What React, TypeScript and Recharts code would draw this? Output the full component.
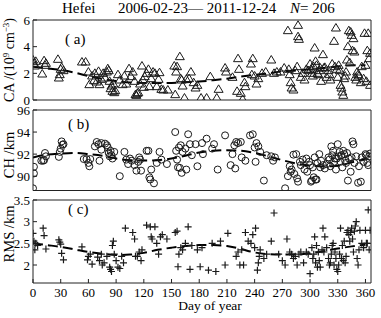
import { ComposedChart, Line, XAxis, YAxis } from "recharts";

const W = 381;
const H = 318;
const FONT = "'Liberation Serif', 'Times New Roman', serif";

const dayTicks = [0, 30, 60, 90, 120, 150, 180, 210, 240, 270, 300, 330, 360];
const caTicks = [0, 2, 4, 6];
const chTicks = [90, 92, 94, 96];
const rmsTicks = [2, 2.5, 3, 3.5];

// running-mean trend, every 15 days
const trendDays = [0, 15, 30, 45, 60, 75, 90, 105, 120, 135, 150, 165, 180, 195, 210, 225, 240, 255, 270, 285, 300, 315, 330, 345, 360];
const caTrend = [2.5, 2.38, 2.25, 2.05, 1.8, 1.58, 1.42, 1.32, 1.28, 1.27, 1.28, 1.33, 1.38, 1.48, 1.6, 1.75, 1.88, 2.0, 2.15, 2.22, 2.3, 2.4, 2.52, 2.6, 2.6];
const chTrend = [91.7, 91.95, 92.05, 92.1, 92.0, 91.85, 91.6, 91.45, 91.42, 91.45, 91.6, 91.85, 92.15, 92.3, 92.35, 92.3, 92.1, 91.8, 91.45, 91.15, 90.95, 90.88, 90.95, 91.25, 91.55];
const rmsTrend = [2.5, 2.46, 2.42, 2.36, 2.3, 2.26, 2.23, 2.24, 2.28, 2.35, 2.4, 2.44, 2.46, 2.46, 2.44, 2.37, 2.29, 2.25, 2.24, 2.24, 2.27, 2.32, 2.38, 2.43, 2.47];

// [day of year, value]
const caPoints: [number, number][] = [
  [0, 3.0], [1, 2.75], [2, 2.55], [3, 2.9], [10, 1.95], [12, 2.95], [13, 2.6], [14, 2.75], [27, 3.05], [28, 1.65], [29, 1.9], [30, 2.3], [31, 2.45], [33, 2.2],
  [53, 2.85], [57, 2.85], [60, 2.1], [61, 1.15], [64, 1.8], [66, 1.45], [67, 2.0], [69, 1.35], [71, 2.15], [72, 1.15], [74, 1.55], [76, 2.0], [78, 1.65],
  [80, 2.1], [81, 2.35], [82, 2.2], [83, 1.4], [84, 0.85], [85, 1.05], [86, 0.65], [87, 1.2], [88, 0.55], [89, 0.7], [92, 1.9], [94, 1.5], [97, 1.15],
  [99, 1.8], [101, 1.2], [104, 2.35], [106, 1.75], [108, 2.1], [110, 1.4], [111, 0.4], [112, 0.35], [113, 0.5], [114, 0.55], [116, 1.2], [118, 2.55],
  [119, 1.5], [120, 0.95], [121, 1.75], [123, 2.0], [125, 2.3], [126, 1.0], [128, 1.6], [130, 2.1], [132, 2.0], [134, 1.0], [136, 1.55], [137, 2.05],
  [139, 0.8], [141, 0.75], [146, 0.75], [153, 2.55], [154, 0.4], [155, 2.1], [156, 2.5], [159, 3.25], [160, 1.6], [161, 1.5], [162, 1.05], [164, 0.15],
  [166, 1.55], [169, 1.6], [171, 2.1], [174, 1.3], [176, 0.9], [178, 1.1], [182, 0.15], [188, 0.15], [192, 1.75], [199, 0.15], [201, 0.8], [208, 2.4],
  [209, 2.1], [216, 1.7], [222, 3.1], [223, 2.3], [221, 0.65], [225, 0.5], [227, 0.05], [229, 1.3], [230, 1.0], [236, 2.7], [238, 3.1], [237, 1.9],
  [240, 1.8], [242, 1.2], [244, 1.6], [248, 2.0], [252, 2.1], [258, 3.0], [261, 2.0], [264, 2.1], [268, 2.1],
  [272, 2.4], [276, 5.2], [277, 2.3], [278, 1.9], [279, 1.3], [280, 0.9], [282, 0.75], [284, 2.2], [286, 2.5], [287, 5.6], [287, 4.75], [288, 4.55],
  [290, 1.7], [292, 2.0], [294, 1.5], [296, 2.3], [298, 2.2], [300, 2.7], [301, 2.3], [302, 2.0], [303, 1.8], [304, 2.5], [305, 3.9], [306, 2.9],
  [307, 2.6], [308, 2.0], [309, 1.9], [310, 2.2], [311, 2.4], [312, 1.4], [314, 3.4], [315, 2.4], [316, 2.45], [318, 1.7], [320, 2.2], [321, 1.9],
  [322, 1.5], [324, 2.7], [326, 4.4], [327, 2.5], [328, 5.4], [329, 2.3], [330, 1.7], [331, 2.6], [332, 2.2], [333, 1.1], [334, 0.9], [335, 0.6],
  [336, 0.35], [337, 1.6], [338, 1.8], [339, 2.1], [340, 3.0], [341, 4.0], [342, 5.2], [343, 2.8], [344, 5.1], [345, 4.85], [346, 3.7], [347, 4.6],
  [348, 3.6], [349, 1.7], [350, 1.5], [351, 2.1], [352, 1.9], [353, 1.8], [355, 1.3], [356, 2.5], [358, 1.6], [359, 5.0], [360, 2.6], [361, 1.4],
  [362, 3.7], [363, 5.0], [364, 3.1], [365, 1.1], [365, 3.5],
];

const chPoints: [number, number][] = [
  [0, 88.9], [1, 90.85], [1, 90.25], [9, 91.4], [11, 91.4], [12, 91.45], [13, 92.1], [14, 91.8], [28, 91.75], [29, 92.2], [30, 92.5], [31, 93.15],
  [32, 92.85], [33, 92.9],
  [55, 91.55], [58, 91.55], [60, 91.2], [61, 90.9], [62, 91.55], [67, 92.7], [69, 93.1], [71, 92.9], [72, 91.4], [74, 93.0], [74, 92.4], [78, 92.95],
  [80, 92.8], [81, 92.6], [82, 92.1], [83, 91.8], [84, 92.3], [85, 91.9], [86, 91.6], [88, 92.2], [94, 90.0], [99, 92.2], [101, 91.5], [103, 91.1],
  [105, 91.6], [107, 91.4], [110, 91.0], [112, 90.5], [114, 91.3], [115, 91.7], [116, 91.5], [117, 90.5], [123, 92.3], [125, 92.3], [126, 89.9],
  [127, 89.7], [128, 90.6], [131, 89.35], [134, 91.2], [137, 92.2], [139, 91.5], [145, 91.1], [154, 94.0], [155, 92.3], [156, 91.5], [157, 90.8],
  [158, 92.6], [159, 90.75], [160, 92.8], [161, 90.3], [162, 92.2], [165, 92.5], [166, 90.6], [168, 93.8], [170, 92.9], [172, 91.9], [176, 92.9],
  [178, 90.9], [183, 93.0], [184, 92.0], [188, 93.4], [194, 92.5], [196, 92.9], [200, 90.6], [208, 93.7], [214, 91.0], [216, 92.0], [218, 92.8],
  [219, 90.7], [220, 93.1], [222, 93.0], [225, 93.1], [226, 91.7], [230, 91.4], [235, 93.7], [238, 93.8], [240, 92.6], [241, 91.3], [242, 93.0],
  [244, 92.7], [246, 92.2], [250, 89.6], [253, 91.9], [258, 91.8], [260, 91.4], [262, 91.7],
  [273, 88.9], [276, 90.0], [278, 90.9], [279, 90.4], [280, 90.6], [282, 91.95], [283, 90.2], [285, 92.0], [286, 89.8], [287, 89.5], [289, 91.3],
  [290, 91.0], [292, 91.5], [294, 90.6], [296, 91.6], [297, 90.4], [299, 91.3], [300, 91.0], [301, 89.5], [302, 89.6], [303, 90.8], [304, 89.9],
  [305, 91.7], [306, 89.7], [307, 89.7], [308, 91.2], [310, 92.0], [311, 90.8], [312, 91.4], [314, 91.0], [316, 90.7], [318, 91.1], [320, 91.7],
  [321, 91.5], [322, 90.9], [323, 92.7], [324, 91.9], [325, 92.3], [326, 91.3], [327, 91.6], [328, 90.6], [329, 91.6], [330, 92.9], [331, 91.8],
  [332, 92.2], [333, 91.3], [334, 91.9], [335, 90.8], [336, 92.3], [337, 92.0], [338, 91.4], [339, 91.2], [340, 92.1], [341, 89.6], [342, 91.6],
  [344, 90.4], [345, 91.7], [346, 93.15], [347, 92.9], [348, 91.2], [350, 91.8], [352, 89.4], [353, 90.9], [355, 89.5], [356, 91.7], [358, 91.3],
  [360, 92.0], [361, 91.9], [362, 91.2], [363, 91.0], [364, 91.8], [365, 92.05],
];

const rmsPoints: [number, number][] = [
  [0, 2.73], [1, 2.55], [2, 2.35], [3, 2.5], [5, 2.45], [11, 2.85], [12, 2.68], [14, 2.37], [28, 2.58], [29, 2.53], [30, 2.48], [31, 2.27], [33, 2.12],
  [53, 2.42], [59, 2.12], [60, 2.2], [62, 2.25], [64, 2.02], [70, 2.18], [72, 2.1], [74, 2.25], [75, 2.0], [77, 2.05], [80, 2.2], [83, 1.95], [84, 1.9],
  [85, 1.85], [86, 2.45], [87, 2.55], [88, 2.25], [90, 2.1], [92, 1.95], [94, 1.92], [96, 2.2], [98, 2.05], [100, 2.85], [108, 2.75], [110, 2.6],
  [111, 2.2], [113, 2.2], [115, 2.3], [117, 2.1], [118, 2.35], [123, 2.92], [127, 2.88], [128, 2.65], [129, 2.6], [132, 2.88], [134, 2.5], [136, 2.25],
  [138, 2.65], [140, 2.7], [145, 2.6], [154, 2.75], [156, 2.78], [157, 1.96], [158, 2.25], [160, 2.4], [162, 2.35], [165, 2.5], [168, 2.88], [170, 1.9],
  [172, 2.45], [178, 2.35], [181, 1.96], [183, 2.4], [190, 1.88], [194, 2.5], [198, 1.85], [203, 2.55], [208, 2.0], [211, 2.73], [220, 2.2], [222, 2.3],
  [224, 2.0], [226, 2.35], [228, 2.0], [230, 2.75], [233, 2.55], [236, 2.5], [238, 2.7], [240, 2.4], [241, 2.85], [243, 1.88], [244, 2.05], [245, 2.2],
  [246, 2.35], [250, 2.15], [253, 2.25], [258, 2.55], [261, 3.2], [266, 2.25], [270, 2.1], [273, 2.0], [275, 2.6], [278, 2.3], [280, 2.25], [282, 2.15],
  [284, 2.2], [286, 2.0], [288, 2.25], [290, 2.3], [293, 2.05], [296, 2.3], [298, 2.25], [300, 1.8], [302, 2.4], [303, 2.15], [304, 2.25], [305, 2.65],
  [306, 2.05], [307, 2.45], [308, 1.95], [309, 2.3], [310, 2.1], [311, 1.95], [313, 2.35], [314, 2.85], [315, 2.3], [316, 2.65], [318, 2.4], [320, 2.15],
  [321, 2.0], [322, 2.05], [323, 2.25], [324, 2.45], [325, 2.5], [326, 2.0], [327, 2.3], [328, 2.15], [329, 1.9], [330, 1.85], [331, 2.0], [332, 2.25],
  [333, 2.85], [334, 2.15], [335, 2.45], [336, 2.1], [337, 2.55], [338, 2.05], [339, 2.2], [340, 2.75], [341, 2.8], [342, 2.7], [343, 2.55], [344, 2.75],
  [345, 2.85], [346, 2.6], [347, 2.3], [348, 2.78], [349, 2.9], [350, 3.0], [351, 2.15], [352, 2.0], [353, 2.35], [354, 2.8], [356, 2.5], [358, 2.4],
  [360, 2.8], [361, 2.5], [362, 2.5], [363, 3.27], [364, 2.35], [365, 2.8],
];

const trendData = trendDays.map((day, i) => ({ day, ca: caTrend[i], ch: chTrend[i], rms: rmsTrend[i] }));

const INK = "#1a1a1a";
const axisStyle = { stroke: "#222", strokeWidth: 1 };

const Triangle = (p: any) => (
  <polygon
    key={p.key}
    points={`${p.cx},${p.cy - 4.5} ${p.cx - 4.5},${p.cy + 3} ${p.cx + 4.5},${p.cy + 3}`}
    fill="none"
    stroke={INK}
    strokeWidth={1}
  />
);

const Circle = (p: any) => <circle key={p.key} cx={p.cx} cy={p.cy} r={3.5} fill="none" stroke={INK} strokeWidth={1} />;

const Plus = (p: any) => (
  <path
    key={p.key}
    d={`M${p.cx - 3.5},${p.cy}H${p.cx + 3.5}M${p.cx},${p.cy - 3.5}V${p.cy + 3.5}`}
    stroke={INK}
    strokeWidth={1.2}
  />
);

type PanelProps = {
  top: number;
  bottom: number;
  domain: [number, number];
  ticks: number[];
  points: [number, number][];
  trendKey: string;
  shape: (p: any) => any;
  showDays?: boolean;
};

// plot box runs x 33..371; axes get 1px of room so Recharts still draws them
function Panel({ top, bottom, domain, ticks, points, trendKey, shape, showDays }: PanelProps) {
  const data = points.map(([day, value]) => ({ day, value }));
  const tickText = { fontSize: 13, fill: "#000", fontFamily: FONT };
  return (
    <div style={{ position: "absolute", left: 0, top: 0 }}>
      <ComposedChart width={W} height={H} margin={{ top: top - 1, bottom: H - bottom - 1, left: 0, right: 9 }}>
        <XAxis
          xAxisId="b"
          type="number"
          dataKey="day"
          domain={[0, 366]}
          ticks={dayTicks}
          allowDataOverflow
          height={1}
          tickSize={-4}
          tickMargin={9}
          tick={showDays ? tickText : false}
          axisLine={axisStyle}
          tickLine={axisStyle}
        />
        <XAxis
          xAxisId="t"
          orientation="top"
          type="number"
          dataKey="day"
          domain={[0, 366]}
          ticks={dayTicks}
          allowDataOverflow
          height={1}
          tickSize={-4}
          tick={false}
          axisLine={axisStyle}
          tickLine={axisStyle}
        />
        <YAxis
          yAxisId="l"
          type="number"
          domain={domain}
          ticks={ticks}
          allowDataOverflow
          width={33}
          tickSize={-4}
          tickMargin={7}
          tick={tickText}
          axisLine={axisStyle}
          tickLine={axisStyle}
        />
        <YAxis
          yAxisId="r"
          orientation="right"
          type="number"
          domain={domain}
          ticks={ticks}
          allowDataOverflow
          width={1}
          tickSize={-4}
          tick={false}
          axisLine={axisStyle}
          tickLine={axisStyle}
        />
        <Line
          xAxisId="b"
          yAxisId="l"
          data={data}
          dataKey="value"
          stroke="none"
          dot={shape}
          activeDot={false}
          isAnimationActive={false}
        />
        <Line
          xAxisId="b"
          yAxisId="l"
          data={trendData}
          dataKey={trendKey}
          type="monotone"
          stroke="#000"
          strokeWidth={2}
          strokeDasharray="10 5"
          dot={false}
          isAnimationActive={false}
        />
      </ComposedChart>
    </div>
  );
}

export default function App() {
  return (
    <div style={{ position: "absolute", left: 0, top: 0, width: W, height: H, background: "#fff" }}>
      <Panel top={20} bottom={100} domain={[0, 6]} ticks={caTicks} points={caPoints} trendKey="ca" shape={Triangle} />
      <Panel top={110} bottom={190.5} domain={[88.7, 96]} ticks={chTicks} points={chPoints} trendKey="ch" shape={Circle} />
      <Panel top={200} bottom={283} domain={[1.585, 3.5]} ticks={rmsTicks} points={rmsPoints} trendKey="rms" shape={Plus} showDays />
      <svg width={W} height={H} style={{ position: "absolute", left: 0, top: 0, pointerEvents: "none" }}>
        <g fontFamily={FONT} fill="#000" fontSize={15}>
          <text x={62} y={13}>Hefei</text>
          <text x={118} y={13}>2006-02-23— 2011-12-24</text>
          <text x={290} y={13}>
            <tspan fontStyle="italic">N</tspan>= 206
          </text>
          <text x={65} y={44}>( a)</text>
          <text x={68} y={129}>( b)</text>
          <text x={68} y={214}>( c)</text>
          <text x={210} y={310} textAnchor="middle" fontSize={13.5}>Day of year</text>
          <text transform="translate(14,60) rotate(-90)" textAnchor="middle" fontSize={14}>
            CA /(10<tspan dy={-5} fontSize={9}>9</tspan>
            <tspan dy={5}> cm</tspan>
            <tspan dy={-5} fontSize={9}>−3</tspan>
            <tspan dy={5}>)</tspan>
          </text>
          <text transform="translate(14,155) rotate(-90)" textAnchor="middle" fontSize={14.5}>CH /km</text>
          <text transform="translate(14,234) rotate(-90)" textAnchor="middle" fontSize={14.5}>RMS /km</text>
        </g>
      </svg>
    </div>
  );
}
